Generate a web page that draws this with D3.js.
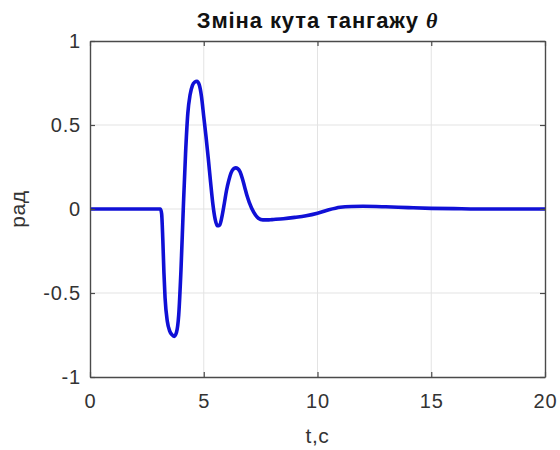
<!DOCTYPE html>
<html><head><meta charset="utf-8">
<script src="https://cdn.jsdelivr.net/npm/d3@7"></script>
<style>
html,body{margin:0;padding:0;background:#fff;}
svg{display:block;font-family:"Liberation Sans",Arial,sans-serif;}
</style></head>
<body><svg id="c" width="560" height="450"></svg>
<script>
const timeVals = [0, 3.1, 3.15, 3.2, 3.25, 3.3, 3.4, 3.5, 3.6, 3.7, 3.8, 3.9, 4.0, 4.1, 4.2, 4.3, 4.4, 4.5, 4.6, 4.7, 4.8, 4.9, 5.0, 5.1, 5.2, 5.3, 5.4, 5.5, 5.6, 5.7, 5.8, 5.9, 6.0, 6.1, 6.2, 6.3, 6.4, 6.5, 6.6, 6.7, 6.8, 6.9, 7.0, 7.2, 7.4, 7.6, 7.8, 8.0, 8.5, 9.0, 9.5, 10, 10.5, 11, 11.5, 12, 13, 14, 15, 16, 17, 20];
const thetaVals = [0, 0, -0.03, -0.18, -0.38, -0.53, -0.67, -0.725, -0.748, -0.758, -0.735, -0.63, -0.36, 0.0, 0.33, 0.57, 0.68, 0.735, 0.755, 0.76, 0.74, 0.67, 0.55, 0.43, 0.3, 0.16, 0.03, -0.06, -0.1, -0.095, -0.045, 0.03, 0.11, 0.17, 0.215, 0.238, 0.245, 0.24, 0.22, 0.18, 0.13, 0.08, 0.04, -0.02, -0.055, -0.065, -0.065, -0.063, -0.058, -0.05, -0.04, -0.025, -0.005, 0.01, 0.015, 0.016, 0.013, 0.008, 0.004, 0.002, 0, 0];
const xTicks = [0, 5, 10, 15, 20];
const yTicks = [-1, -0.5, 0, 0.5, 1];
const titleText = "Зміна кута тангажу ";
const xLabel = "t,c";
const yLabel = "рад";

const svg = d3.select("#c");
const L = 90, R = 545, T = 41, B = 377;
const x = d3.scaleLinear().domain([0, 20]).range([L, R]);
const y = d3.scaleLinear().domain([-1, 1]).range([B, T]);

// grid
const g = svg.append("g");
g.selectAll("line.gx").data(xTicks.slice(1, -1)).enter().append("line")
  .attr("x1", d => x(d)).attr("x2", d => x(d)).attr("y1", T).attr("y2", B)
  .attr("stroke", "#e3e3e3").attr("stroke-width", 1);
g.selectAll("line.gy").data(yTicks.slice(1, -1)).enter().append("line")
  .attr("y1", d => y(d)).attr("y2", d => y(d)).attr("x1", L).attr("x2", R)
  .attr("stroke", "#e3e3e3").attr("stroke-width", 1);

// data line
const pts = timeVals.map((t, i) => [t, thetaVals[i]]);
svg.append("path").datum(pts)
  .attr("d", d3.line().x(d => x(d[0])).y(d => y(d[1])).curve(d3.curveMonotoneX))
  .attr("fill", "none").attr("stroke", "#1010d6").attr("stroke-width", 3.6)
  .attr("stroke-linejoin", "round");

// axes
const axCol = "#4a4a4a";
const fmt = d => String(d);
const xb = svg.append("g").attr("transform", `translate(0,${B})`)
  .call(d3.axisBottom(x).tickValues(xTicks).tickSizeInner(-5).tickSizeOuter(0).tickPadding(17).tickFormat(fmt));
const yl = svg.append("g").attr("transform", `translate(${L},0)`)
  .call(d3.axisLeft(y).tickValues(yTicks).tickSizeInner(-5).tickSizeOuter(0).tickPadding(9).tickFormat(fmt));
const xt = svg.append("g").attr("transform", `translate(0,${T})`)
  .call(d3.axisTop(x).tickValues(xTicks).tickSizeInner(-5).tickSizeOuter(0).tickFormat(""));
const yr = svg.append("g").attr("transform", `translate(${R},0)`)
  .call(d3.axisRight(y).tickValues(yTicks).tickSizeInner(-5).tickSizeOuter(0).tickFormat(""));
[xb, yl, xt, yr].forEach(a => {
  a.select(".domain").attr("stroke", axCol).attr("stroke-width", 1.4);
  a.selectAll(".tick line").attr("stroke", axCol).attr("stroke-width", 1.2);
  a.selectAll("text").attr("font-size", 20).attr("fill", "#333").attr("letter-spacing", 0.8)
    .attr("font-family", "'Liberation Sans',Arial,sans-serif");
});

// title
const tt = svg.append("text").attr("x", (L + R) / 2).attr("y", 28)
  .attr("text-anchor", "middle").attr("font-size", 22).attr("font-weight", "bold").attr("fill", "#111")
  .attr("letter-spacing", 0.9);
tt.append("tspan").text(titleText);
tt.append("tspan").attr("font-style", "italic").attr("font-family", "'Liberation Serif',serif").text("θ");

svg.append("text").attr("x", (L + R) / 2).attr("y", 443).attr("text-anchor", "middle")
  .attr("font-size", 21).attr("fill", "#333").attr("letter-spacing", 0.6).text(xLabel);
svg.append("text").attr("transform", `translate(25,${(T + B) / 2}) rotate(-90)`).attr("text-anchor", "middle")
  .attr("font-size", 21).attr("fill", "#333").attr("letter-spacing", 0.6).text(yLabel);
</script></body></html>
